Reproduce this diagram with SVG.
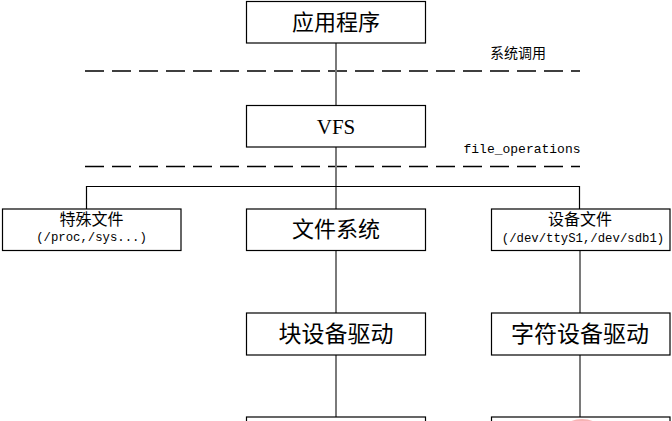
<svg xmlns="http://www.w3.org/2000/svg" width="672" height="421" viewBox="0 0 672 421">
<style>
.box{fill:#fff;stroke:#000;stroke-width:1.2}
.cjk{font-family:"Noto Sans CJK SC","Liberation Sans",sans-serif;fill:#000;text-anchor:middle}
.mono{font-family:"Liberation Mono","DejaVu Sans Mono",monospace;fill:#000;text-anchor:middle}
.serif{font-family:"Liberation Serif",serif;fill:#000;text-anchor:middle}
.v{stroke:#7a7a7a;stroke-width:2;fill:none}
.h{stroke:#000;stroke-width:1.2;fill:none}
.dash{stroke:#000;stroke-width:1.5;stroke-dasharray:19 8;fill:none}
</style>
<rect width="672" height="421" fill="#fff"/>
<g id="connectors">
<line class="dash" x1="85" y1="71" x2="580" y2="71"/>
<line class="dash" x1="85" y1="166.5" x2="580" y2="166.5"/>
<line class="v" x1="336" y1="43" x2="336" y2="105"/>
<line class="v" x1="336" y1="147" x2="336" y2="209"/>
<polyline class="h" points="86.5,209 86.5,186.5 579.5,186.5 579.5,209"/>
<line class="v" x1="336" y1="251" x2="336" y2="313"/>
<line class="v" x1="580" y1="251" x2="580" y2="313"/>
<line class="v" x1="336" y1="355" x2="336" y2="417"/>
<line class="v" x1="580" y1="355" x2="580" y2="417"/>
</g>
<g id="label-syscall"><text class="cjk" x="518" y="58" font-size="14">系统调用</text></g>
<g id="label-fileops"><text class="mono" x="522" y="153" font-size="13">file_operations</text></g>
<g id="app"><rect class="box" x="246.5" y="1.5" width="179" height="41.5"/><text class="cjk" x="336" y="30" font-size="22">应用程序</text></g>
<g id="vfs"><rect class="box" x="246.5" y="105.5" width="179" height="41.5"/><text class="serif" x="336" y="134" font-size="21">VFS</text></g>
<g id="special"><rect class="box" x="2.5" y="209" width="178.5" height="41.5"/><text class="cjk" x="91.5" y="225" font-size="16">特殊文件</text><text class="mono" x="91.5" y="241" font-size="12.3">(/proc,/sys...)</text></g>
<g id="fs"><rect class="box" x="246.5" y="209" width="179" height="41.5"/><text class="cjk" x="336" y="237" font-size="22">文件系统</text></g>
<g id="devfile"><rect class="box" x="491.5" y="209" width="178.5" height="41.5"/><text class="cjk" x="580" y="225" font-size="16">设备文件</text><text class="mono" x="583" y="242" font-size="12.3">(/dev/ttyS1,/dev/sdb1)</text></g>
<g id="blockdrv"><rect class="box" x="246.5" y="313" width="179" height="42"/><text class="cjk" x="336" y="342" font-size="23">块设备驱动</text></g>
<g id="chardrv"><rect class="box" x="491.5" y="313" width="178.5" height="42"/><text class="cjk" x="580" y="342" font-size="23">字符设备驱动</text></g>
<g id="bottom-left"><rect class="box" x="246.5" y="417" width="179" height="30"/></g>
<g id="bottom-right"><rect class="box" x="491.5" y="417" width="178.5" height="30"/><ellipse cx="582" cy="431" rx="19" ry="12" fill="#f6b3b3"/></g>
</svg>
